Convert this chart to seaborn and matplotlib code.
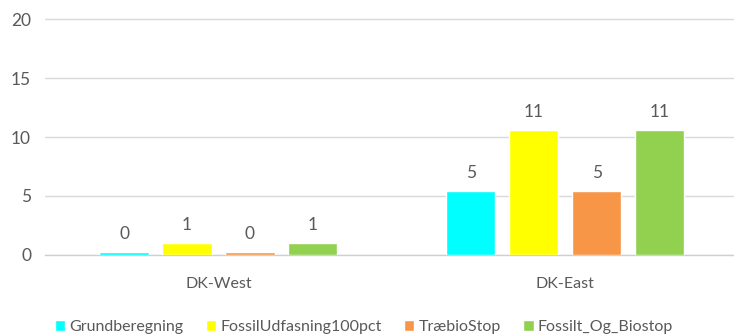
import matplotlib
matplotlib.use("Agg")
import matplotlib.pyplot as plt
import seaborn as sns
import pandas as pd

# Regions and scenarios
regions = ["DK-West", "DK-East"]
scenarios = ["Grundberegning", "FossilUdfasning100pct", "TræbioStop", "Fossilt_Og_Biostop"]
colors = ["#00FFFF", "#FFFF00", "#F79646", "#92D050"]

# Values per scenario, ordered as regions
grundberegning = [0.25, 5.4]
fossil_udfasning = [1.0, 10.6]
traebio_stop = [0.25, 5.4]
fossilt_og_biostop = [1.0, 10.6]

series = [grundberegning, fossil_udfasning, traebio_stop, fossilt_og_biostop]
rows = []
for name, vals in zip(scenarios, series):
    for reg, v in zip(regions, vals):
        rows.append({"region": reg, "scenario": name, "value": v})
df = pd.DataFrame(rows)

sns.set_theme(style="white")
plt.rcParams["font.family"] = ["Lato", "DejaVu Sans"]

W, H = 734, 336
fig = plt.figure(figsize=(W / 100, H / 100), dpi=100)
ymax = 20.2
px_per_unit = 11.75
ax = fig.add_axes([45 / W, (H - 254.5) / H, (W - 45) / W, ymax * px_per_unit / H])

sns.barplot(data=df, x="region", y="value", hue="scenario", order=regions,
            hue_order=scenarios, palette=colors, width=0.726, gap=0.22,
            saturation=1, errorbar=None, ax=ax, zorder=3)

text_color = "#595959"
for cont in ax.containers:
    ax.bar_label(cont, fmt="{:.0f}", padding=7, fontsize=12.5, color=text_color)

ax.set_ylim(0, ymax)
ax.set_xlim(-0.5, 1.486)
ax.set_yticks([0, 5, 10, 15, 20])
ax.set_yticklabels(["0", "5", "10", "15", "20"])
ax.grid(axis="y", color="#D9D9D9", linewidth=1.0, zorder=0)
ax.grid(axis="x", visible=False)
for s in ["top", "right", "left"]:
    ax.spines[s].set_visible(False)
ax.spines["bottom"].set_color("#D0D0D0")
ax.spines["bottom"].set_linewidth(1.0)
ax.tick_params(axis="y", length=0, pad=10, labelsize=12.5, labelcolor=text_color)
ax.tick_params(axis="x", length=0, pad=16, labelsize=11.5, labelcolor=text_color)
ax.set_xlabel("")
ax.set_ylabel("")

handles, labels = ax.get_legend_handles_labels()
ax.get_legend().remove()
fig.legend(handles, labels, loc="center", bbox_to_anchor=(364 / W, (H - 327) / H),
           ncol=4, frameon=False, fontsize=11.5, handlelength=0.65, handleheight=0.65,
           handletextpad=0.25, columnspacing=1.4, labelcolor=text_color,
           borderaxespad=0, borderpad=0)

fig.savefig("out.png", dpi=100)
